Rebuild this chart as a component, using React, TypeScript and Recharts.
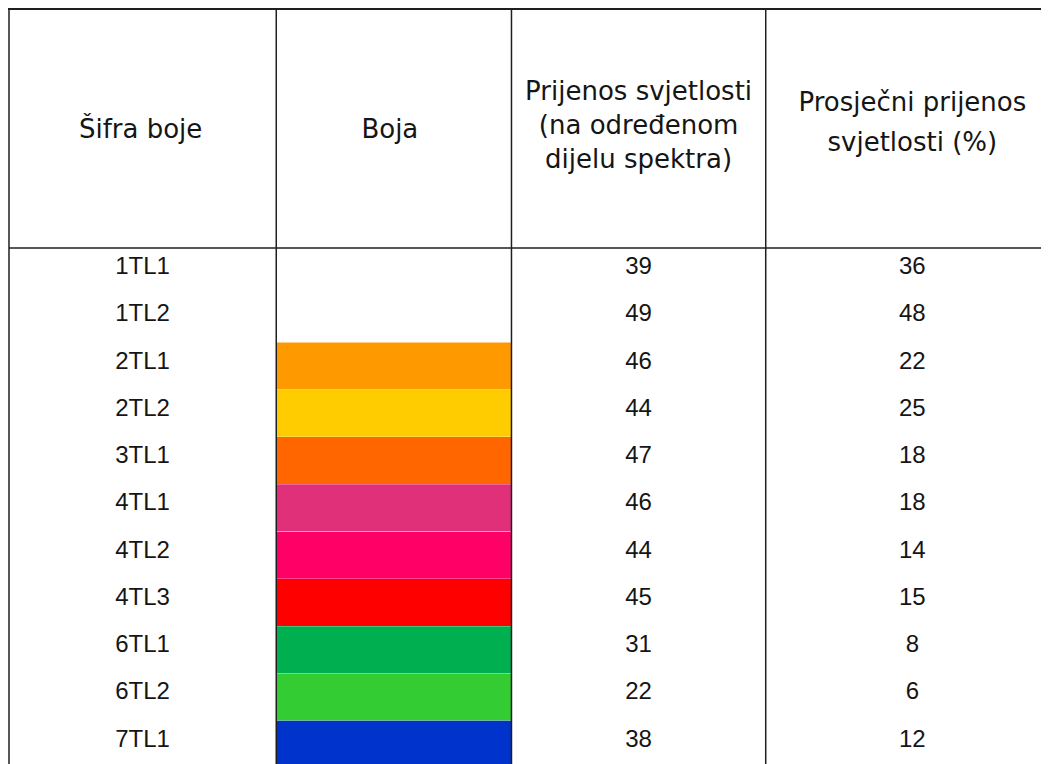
import { ComposedChart, Bar, Cell, XAxis, YAxis, ReferenceLine, LabelList } from 'recharts';

// table rows
const codes = ['1TL1', '1TL2', '2TL1', '2TL2', '3TL1', '4TL1', '4TL2', '4TL3', '6TL1', '6TL2', '7TL1'];
const swatches = [null, null, '#FF9900', '#FFCC00', '#FF6600', '#E1307A', '#FF0066', '#FF0000', '#00B050', '#33CC33', '#0033CC'];
const spectrumTransmission = [39, 49, 46, 44, 47, 46, 44, 45, 31, 22, 38];
const avgTransmission = [36, 48, 22, 25, 18, 18, 14, 15, 8, 6, 12];

const headers = [
  ['Šifra boje'],
  ['Boja'],
  ['Prijenos svjetlosti', '(na određenom', 'dijelu spektra)'],
  ['Prosječni prijenos', 'svjetlosti (%)'],
];

// layout (x units of the hidden table axis)
const COL_EDGES = [0, 267, 502, 756, 1049];
const COL_CENTERS = COL_EDGES.slice(0, -1).map((e, i) => (e + COL_EDGES[i + 1]) / 2);
const HEADER_H = 238;
const LINE = '#1f1f1f';
const HEAD_FONT = '"DejaVu Sans", Tahoma, sans-serif';
const BODY_FONT = '"Liberation Sans", Arial, sans-serif';

const rows = codes.map((code, i) => ({
  code,
  swatch: swatches[i],
  trans: spectrumTransmission[i],
  avg: avgTransmission[i],
}));

const span = (c: number) => () => [COL_EDGES[c], COL_EDGES[c + 1]];

function HeaderTick(props: any) {
  const { x, y, payload } = props;
  const v = payload.value;
  if (COL_EDGES.includes(v)) {
    return <line x1={x} x2={x} y1={y} y2={y - HEADER_H - 2} stroke={LINE} strokeWidth={1.5} />;
  }
  const ci = COL_CENTERS.indexOf(v);
  const lines = headers[ci] || [];
  const gap = ci === 3 ? 40 : 34;
  const mid = ci === 3 ? -126 : ci === 2 ? -123 : -119;
  const shift = ci === 1 ? -4 : ci === 0 ? -2 : 0;
  const start = mid - ((lines.length - 1) * gap) / 2;
  return (
    <text textAnchor="middle" fontFamily={HEAD_FONT} fontSize={26} fill="#151515" dominantBaseline="central">
      {lines.map((l, i) => (
        <tspan key={i} x={x + shift} y={y + start + i * gap}>{l}</tspan>
      ))}
    </text>
  );
}

const cellLabel = (p: any) => {
  const vb = p.viewBox || p;
  return (
    <text
      x={vb.x + vb.width / 2}
      y={vb.y + vb.height / 2 - 6}
      textAnchor="middle"
      dominantBaseline="central"
      fontFamily={BODY_FONT}
      fontSize={24}
      fill="#151515"
    >
      {p.value}
    </text>
  );
};

export default function App() {
  return (
    <div style={{ width: 1041, height: 756, overflow: 'hidden', borderTop: `2px solid ${LINE}` }}>
      <style>{'html,body{overflow:hidden}'}</style>
      <ComposedChart
        width={1051}
        height={758}
        data={rows}
        layout="vertical"
        margin={{ top: 0, right: 0, bottom: 0, left: 1 }}
        barCategoryGap={0}
        barGap={0}
      >
        <XAxis
          type="number"
          orientation="top"
          domain={[0, 1049]}
          height={HEADER_H}
          ticks={[...COL_EDGES, ...COL_CENTERS].sort((a, b) => a - b)}
          interval={0}
          tickSize={0}
          tickMargin={0}
          tickLine={false}
          tick={<HeaderTick />}
          axisLine={{ stroke: LINE, strokeWidth: 1.5 }}
        />
        <YAxis type="category" dataKey="code" hide />
        <YAxis yAxisId="sw" type="category" dataKey="code" hide />
        <YAxis yAxisId="tr" type="category" dataKey="code" hide />
        <YAxis yAxisId="av" type="category" dataKey="code" hide />

        <Bar dataKey={span(0)} fill="transparent" isAnimationActive={false}>
          <LabelList dataKey="code" content={cellLabel} />
        </Bar>
        <Bar yAxisId="sw" dataKey={span(1)} isAnimationActive={false}>
          {rows.map((r) => (
            <Cell key={r.code} fill={r.swatch || 'transparent'} />
          ))}
        </Bar>
        <Bar yAxisId="tr" dataKey={span(2)} fill="transparent" isAnimationActive={false}>
          <LabelList dataKey="trans" content={cellLabel} />
        </Bar>
        <Bar yAxisId="av" dataKey={span(3)} fill="transparent" isAnimationActive={false}>
          <LabelList dataKey="avg" content={cellLabel} />
        </Bar>

        {COL_EDGES.map((e) => (
          <ReferenceLine key={e} x={e} stroke={LINE} strokeWidth={1.5} />
        ))}
      </ComposedChart>
    </div>
  );
}
